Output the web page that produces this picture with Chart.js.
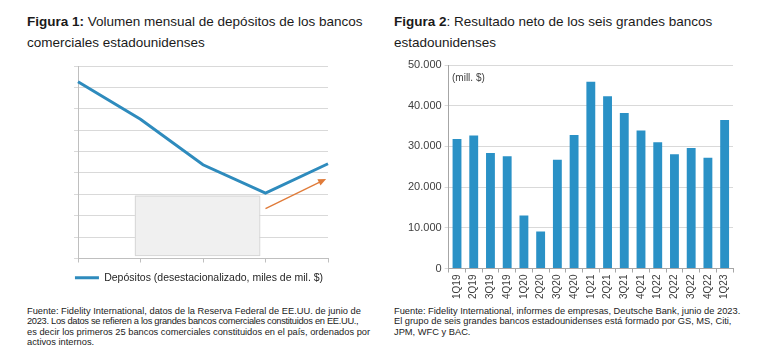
<!DOCTYPE html>
<html>
<head>
<meta charset="utf-8">
<script src="https://cdn.jsdelivr.net/npm/chart.js@4"></script>
<style>
    body { margin: 0; background: #fff; font-family: 'Liberation Sans', Arial, sans-serif; color: #1a1a1a; }
    #page { position: relative; width: 766px; height: 352px; overflow: hidden; }
    .title { position: absolute; top: 11px; font-size: 13.5px; line-height: 21px; }
    .note { position: absolute; top: 306px; font-size: 9.3px; line-height: 10.4px; color: #222; }
    .note div { white-space: nowrap; }
    .note .just { text-align: justify; text-align-last: justify; }
    .unit { position: absolute; font-size: 10px; color: #404040; }
    canvas { position: absolute; }
</style>
</head>
<body>
<div id="page">
    <div class="title" style="left:27px;width:350px;"><b>Figura 1:</b> Volumen mensual de depósitos de los bancos comerciales estadounidenses</div>
    <div class="title" style="left:394px;width:340px;"><b>Figura 2</b>: Resultado neto de los seis grandes bancos estadounidenses</div>

    <div id="wrap-left" style="position:absolute;left:0;top:55px;width:383px;height:240px;"><canvas id="chart-left"></canvas></div>
    <div id="wrap-right" style="position:absolute;left:383px;top:50px;width:383px;height:255px;"><canvas id="chart-right"></canvas></div>
    <div class="unit" style="left:452px;top:72px;">(mill. $)</div>

    <div class="note" style="left:27px;width:325px;">
        <div class="just">Fuente: Fidelity International, datos de la Reserva Federal de EE.UU. de junio de</div>
        <div class="just" style="letter-spacing:-0.3px;">2023. Los datos se refieren a los grandes bancos comerciales constituidos en EE.UU.,</div>
        <div class="just">es decir los primeros 25 bancos comerciales constituidos en el país, ordenados por</div>
        <div>activos internos.</div>
    </div>
    <div class="note" style="left:394px;width:350px;">
        <div>Fuente: Fidelity International, informes de empresas, Deutsche Bank, junio de 2023.</div>
        <div>El grupo de seis grandes bancos estadounidenses está formado por GS, MS, Citi,</div>
        <div>JPM, WFC y BAC.</div>
    </div>
</div>

<script>
// figura 1: no labels on the axes, values read in gridline units (0..9)
const depositPeriods = ['', '', '', '', ''];
const depositValues = [8.26, 6.51, 4.38, 3.06, 4.43];
const depositLabel = 'Depósitos (desestacionalizado, miles de mil. $)';

// figura 2: net income, mill. $
const quarters = ['1Q19', '2Q19', '3Q19', '4Q19', '1Q20', '2Q20', '3Q20', '4Q20',
    '1Q21', '2Q21', '3Q21', '4Q21', '1Q22', '2Q22', '3Q22', '4Q22', '1Q23'];
const netIncome = [31800, 32700, 28400, 27600, 13000, 9100, 26700, 32800,
    45900, 42300, 38200, 33900, 31000, 28100, 29600, 27200, 36500];

const fontFamily = "'Liberation Sans', Arial, sans-serif";
Chart.defaults.font.family = fontFamily;
Chart.defaults.color = '#404040';
Chart.defaults.animation = false;

// grey placeholder box + orange arrow on the line chart
const decorPlugin = {
    id: 'decor',
    afterDatasetsDraw(chart) {
        const ctx = chart.ctx;
        const x = chart.scales.x, y = chart.scales.y;

        let x1 = x.getPixelForValue(0.91), x2 = x.getPixelForValue(2.9);
        let y1 = y.getPixelForValue(2.94), y2 = y.getPixelForValue(0.16);
        ctx.save();
        ctx.fillStyle = '#f0f0f0';
        ctx.strokeStyle = '#d6d6d6';
        ctx.lineWidth = 1;
        ctx.fillRect(x1, y1, x2 - x1, y2 - y1);
        ctx.strokeRect(x1 + 0.5, y1 + 0.5, x2 - x1, y2 - y1);

        let ax = x.getPixelForValue(3.0), ay = y.getPixelForValue(2.33);
        let bx = x.getPixelForValue(3.97), by = y.getPixelForValue(3.72);
        let ang = Math.atan2(by - ay, bx - ax);
        ctx.strokeStyle = '#e07b39';
        ctx.fillStyle = '#e07b39';
        ctx.lineWidth = 1.3;
        ctx.beginPath();
        ctx.moveTo(ax, ay);
        ctx.lineTo(bx - 6 * Math.cos(ang), by - 6 * Math.sin(ang));
        ctx.stroke();
        ctx.beginPath();
        ctx.moveTo(bx, by);
        ctx.lineTo(bx - 8 * Math.cos(ang) + 3.5 * Math.sin(ang), by - 8 * Math.sin(ang) - 3.5 * Math.cos(ang));
        ctx.lineTo(bx - 8 * Math.cos(ang) - 3.5 * Math.sin(ang), by - 8 * Math.sin(ang) + 3.5 * Math.cos(ang));
        ctx.closePath();
        ctx.fill();
        ctx.restore();
    }
};

new Chart(document.getElementById('chart-left'), {
    type: 'line',
    data: {
        labels: depositPeriods,
        datasets: [{
            label: depositLabel,
            data: depositValues,
            borderColor: '#2e8bbd',
            backgroundColor: '#2e8bbd',
            borderWidth: 3,
            pointRadius: 0,
            tension: 0
        }]
    },
    options: {
        responsive: true,
        maintainAspectRatio: false,
        // small outer padding so the legend gets the full width; axes are pushed in with afterFit
        layout: { padding: { left: 40, right: 25, top: 11, bottom: 2 } },
        plugins: {
            legend: {
                position: 'bottom',
                labels: {
                    usePointStyle: true,
                    pointStyle: 'line',
                    pointStyleWidth: 24,
                    color: '#262626',
                    font: { size: 10.5 },
                    padding: 10
                }
            },
            tooltip: { enabled: false }
        },
        scales: {
            x: {
                offset: false,
                ticks: { display: false },
                grid: { drawOnChartArea: false, tickLength: 4, color: '#bfbfbf' },
                border: { color: '#bfbfbf' }
            },
            y: {
                min: 0,
                max: 9,
                ticks: { display: false, stepSize: 1 },
                grid: { color: '#d9d9d9', tickLength: 4 },
                border: { color: '#bfbfbf' },
                afterFit: scale => { scale.width = 38; }
            },
            spacer: {
                type: 'linear',
                position: 'right',
                ticks: { display: false },
                grid: { display: false },
                border: { display: false },
                afterFit: scale => { scale.width = 30; }
            }
        }
    },
    plugins: [decorPlugin]
});

new Chart(document.getElementById('chart-right'), {
    type: 'bar',
    data: {
        labels: quarters,
        datasets: [{
            data: netIncome,
            backgroundColor: '#2a91c6',
            barPercentage: 0.53,
            categoryPercentage: 1
        }]
    },
    options: {
        responsive: true,
        maintainAspectRatio: false,
        layout: { padding: { left: 22, right: 33, top: 15, bottom: 4 } },
        plugins: { legend: { display: false }, tooltip: { enabled: false } },
        scales: {
            x: {
                ticks: { minRotation: 90, maxRotation: 90, font: { size: 10 }, color: '#404040', padding: 2 },
                grid: { drawOnChartArea: false, tickLength: 4, color: '#a6a6a6' },
                border: { color: '#a6a6a6' }
            },
            y: {
                min: 0,
                max: 50000,
                ticks: {
                    stepSize: 10000,
                    font: { size: 11 },
                    color: '#404040',
                    padding: 3,
                    callback: v => v.toLocaleString('de-DE')
                },
                grid: { color: '#d9d9d9', tickLength: 4 },
                border: { color: '#a6a6a6' }
            }
        }
    }
});
</script>
</body>
</html>
